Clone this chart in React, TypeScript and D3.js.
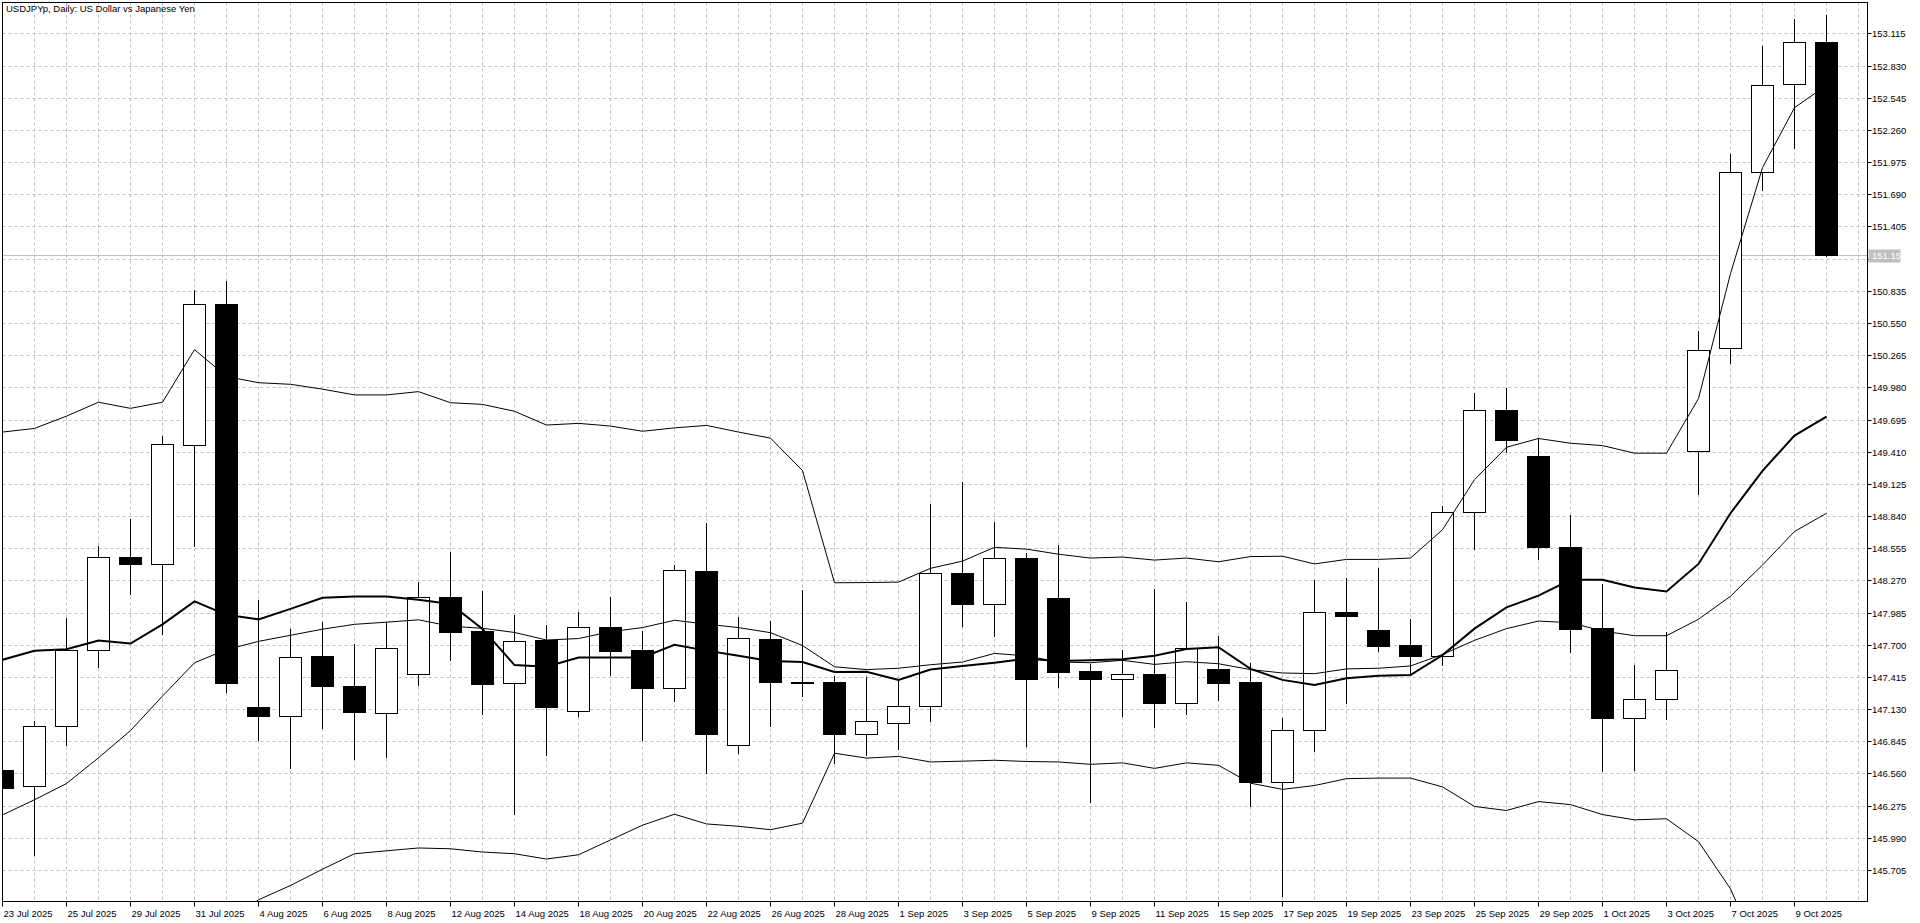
import React from 'react';
import * as d3 from 'd3';

const dates = [
  '23 Jul 2025','24 Jul 2025','25 Jul 2025','28 Jul 2025','29 Jul 2025','30 Jul 2025','31 Jul 2025','1 Aug 2025',
  '4 Aug 2025','5 Aug 2025','6 Aug 2025','7 Aug 2025','8 Aug 2025','11 Aug 2025','12 Aug 2025','13 Aug 2025',
  '14 Aug 2025','15 Aug 2025','18 Aug 2025','19 Aug 2025','20 Aug 2025','21 Aug 2025','22 Aug 2025','25 Aug 2025',
  '26 Aug 2025','27 Aug 2025','28 Aug 2025','29 Aug 2025','1 Sep 2025','2 Sep 2025','3 Sep 2025','4 Sep 2025',
  '5 Sep 2025','8 Sep 2025','9 Sep 2025','10 Sep 2025','11 Sep 2025','12 Sep 2025','15 Sep 2025','16 Sep 2025',
  '17 Sep 2025','18 Sep 2025','19 Sep 2025','22 Sep 2025','23 Sep 2025','24 Sep 2025','25 Sep 2025','26 Sep 2025',
  '29 Sep 2025','30 Sep 2025','1 Oct 2025','2 Oct 2025','3 Oct 2025','6 Oct 2025','7 Oct 2025','8 Oct 2025',
  '9 Oct 2025','10 Oct 2025'
];

const openP = [146.591,146.446,146.978,147.654,148.475,148.413,149.465,150.716,147.149,147.069,147.600,147.339,147.093,147.437,148.120,147.822,147.358,147.740,147.111,147.856,147.651,147.313,148.352,146.809,147.752,147.368,147.367,146.907,147.004,147.154,148.340,148.057,148.471,148.114,147.465,147.395,147.437,147.188,147.486,147.370,146.483,146.943,147.989,147.831,147.697,147.598,148.880,149.778,149.370,148.568,147.848,147.050,147.218,149.413,150.325,151.883,152.665,153.035];
const highP = [146.617,147.025,147.935,148.579,148.814,149.545,150.846,150.922,148.098,147.838,147.903,147.708,147.903,148.254,148.525,148.179,147.968,147.877,147.989,148.127,147.822,148.407,148.779,147.949,147.913,148.188,147.420,147.410,147.389,148.944,149.143,148.788,148.517,148.584,147.532,147.651,148.194,148.075,147.776,147.541,147.053,148.274,148.289,148.380,147.928,148.927,149.933,149.970,149.527,148.849,148.234,147.520,147.817,150.476,152.045,153.004,153.239,153.281];
const lowP = [146.414,145.842,146.808,147.506,148.152,147.798,148.579,147.285,146.855,146.608,146.963,146.688,146.710,147.346,147.567,147.083,146.199,146.724,147.068,147.431,146.858,147.205,146.565,146.742,146.980,147.243,146.656,146.727,146.778,147.029,147.862,147.779,146.800,147.328,146.303,147.068,146.974,147.089,147.215,146.275,145.473,146.763,147.184,147.648,147.450,147.520,148.547,149.407,148.458,147.639,146.582,146.592,147.041,149.032,150.199,151.732,152.097,151.140];
const closeP = [146.435,146.978,147.657,148.475,148.413,149.476,150.716,147.357,147.069,147.592,147.339,147.104,147.675,148.127,147.817,147.355,147.736,147.150,147.856,147.648,147.313,148.359,146.913,147.757,147.370,147.360,146.907,147.023,147.154,148.340,148.057,148.471,147.401,147.459,147.395,147.437,147.188,147.670,147.364,146.480,146.943,147.989,147.959,147.693,147.596,148.880,149.778,149.511,148.568,147.838,147.050,147.218,147.473,150.314,151.883,152.660,153.035,151.153];

const upperBand = [149.584,149.616,149.725,149.848,149.794,149.848,150.314,150.076,150.021,150.007,149.964,149.913,149.913,149.942,149.844,149.829,149.768,149.646,149.661,149.637,149.591,149.621,149.643,149.584,149.530,149.243,148.249,148.251,148.255,148.377,148.441,148.563,148.547,148.502,148.468,148.477,148.450,148.468,148.435,148.481,148.484,148.416,148.456,148.456,148.468,148.719,149.162,149.449,149.527,149.485,149.464,149.397,149.397,149.881,150.987,151.926,152.457,152.655];
const middleBand = [146.193,146.327,146.471,146.699,146.940,147.245,147.541,147.657,147.730,147.784,147.838,147.881,147.900,147.921,147.864,147.846,147.809,147.742,147.755,147.816,147.852,147.917,147.883,147.852,147.807,147.693,147.505,147.480,147.492,147.523,147.547,147.623,147.602,147.547,147.541,147.562,147.526,147.550,147.532,147.480,147.450,147.444,147.486,147.492,147.512,147.614,147.739,147.843,147.910,147.895,147.822,147.780,147.780,147.926,148.130,148.406,148.703,148.865];
const lowerBand: (number | null)[] = [null,null,null,null,null,null,null,145.238,145.441,145.568,145.712,145.849,145.875,145.900,145.893,145.864,145.849,145.802,145.840,145.971,146.102,146.199,146.113,146.092,146.062,146.120,146.739,146.696,146.711,146.662,146.669,146.677,146.666,146.662,146.641,146.654,146.605,146.654,146.632,146.474,146.419,146.453,146.514,146.519,146.519,146.441,146.268,146.232,146.311,146.284,146.196,146.149,146.159,145.956,145.538,144.890,144.952,145.076];
const maThick = [147.567,147.646,147.661,147.737,147.711,147.881,148.084,147.965,147.925,148.018,148.116,148.127,148.127,148.098,148.062,147.840,147.520,147.505,147.587,147.587,147.587,147.700,147.648,147.602,147.556,147.547,147.459,147.461,147.389,147.480,147.511,147.541,147.577,147.556,147.562,147.571,147.602,147.663,147.678,147.486,147.389,147.343,147.404,147.425,147.432,147.608,147.843,148.031,148.135,148.275,148.275,148.208,148.172,148.416,148.865,149.240,149.553,149.720];

const priceTicks = ['145.705','145.990','146.275','146.560','146.845','147.130','147.415','147.700','147.985','148.270','148.555','148.840','149.125','149.410','149.695','149.980','150.265','150.550','150.835','151.120','151.405','151.690','151.975','152.260','152.545','152.830','153.115'];
const currentPrice = 151.153;
const titleText = 'USDJPYp, Daily:  US Dollar vs Japanese Yen';

const W = 1920;
const H = 923;
const L = 2.5, R = 1867.5, T = 2.5, B = 901.5;
const FONT = "'Liberation Sans', Arial, sans-serif";

export default function App() {
  const x = d3.scaleLinear().domain([0, 1]).range([2.5, 34.5]);
  const y = d3.scaleLinear().domain([145.4215, 153.3843]).range([902, 3]);
  const crisp = (v: number) => Math.round(v) + 0.5;

  const idx = d3.range(dates.length);
  const gridX: number[] = [];
  for (let k = 0; x(k) < R; k++) gridX.push(x(k));

  const lineGen = d3.line<number | null>()
    .defined((d) => d !== null)
    .x((_, i) => x(i))
    .y((d) => y(d as number));

  const py = crisp(y(currentPrice));
  // the tick label hidden by the current-price box in the reference
  const visibleTicks = priceTicks.filter((t) => Math.abs(crisp(y(+t)) - py) > 10);

  return (
    <div style={{ position: 'absolute', left: 0, top: 0, width: W, height: H, background: '#fff' }}>
      <svg width={W} height={H} style={{ display: 'block' }} fontFamily={FONT}>
        <defs>
          <clipPath id="plot">
            <rect x={3} y={3} width={R - 3.5} height={B - 3.5} />
          </clipPath>
        </defs>
        <rect x={0} y={0} width={W} height={H} fill="#fff" />
        <g clipPath="url(#plot)">
          {gridX.map((gx, k) => (
            <line key={'gx' + k} x1={gx} x2={gx} y1={T} y2={B} stroke="#c0c0c0" strokeDasharray="3,3" />
          ))}
          {priceTicks.map((t) => (
            <line key={'gy' + t} x1={L} x2={R} y1={crisp(y(+t))} y2={crisp(y(+t))} stroke="#c0c0c0" strokeDasharray="3,3" />
          ))}
          <line x1={L} x2={R} y1={py} y2={py} stroke="#c0c0c0" />
          {idx.map((i) => {
            const o = openP[i], c = closeP[i];
            const cx = x(i);
            const top = Math.round(y(Math.max(o, c)));
            const bot = Math.round(y(Math.min(o, c)));
            const bull = c > o;
            return (
              <g key={'c' + i}>
                <line x1={cx} x2={cx} y1={Math.round(y(highP[i]))} y2={Math.round(y(lowP[i])) + 1} stroke="#000" />
                <rect x={cx - 11} y={top + 0.5} width={22} height={Math.max(bot - top, 0)}
                  fill={bull ? '#fff' : '#000'} stroke="#000" />
              </g>
            );
          })}
          <path d={lineGen(upperBand) || ''} fill="none" stroke="#000" strokeWidth={1} />
          <path d={lineGen(middleBand) || ''} fill="none" stroke="#000" strokeWidth={1} />
          <path d={lineGen(lowerBand) || ''} fill="none" stroke="#000" strokeWidth={1} />
          <path d={lineGen(maThick) || ''} fill="none" stroke="#000" strokeWidth={2} />
        </g>
        <rect x={L} y={T} width={R - L} height={B - T} fill="none" stroke="#000" />
        <text x={6} y={12} fontSize={9.5} fill="#000">{titleText}</text>
        {priceTicks.map((t) => (
          <line key={'ytk' + t} x1={R} x2={R + 4} y1={crisp(y(+t))} y2={crisp(y(+t))} stroke="#000" />
        ))}
        {visibleTicks.map((t) => (
          <text key={'yt' + t} x={R + 4.5} y={crisp(y(+t))} dy="0.35em" fontSize={9.5} fill="#000">{t}</text>
        ))}
        <rect x={R + 1} y={py - 6} width={32} height={13} fill="#c0c0c0" />
        <text x={R + 4.5} y={py} dy="0.35em" fontSize={9.5} fill="#fff">{currentPrice.toFixed(3)}</text>
        {idx.filter((i) => i % 2 === 0).map((i) => (
          <g key={'xt' + i}>
            <line x1={x(i)} x2={x(i)} y1={B} y2={B + 5} stroke="#000" />
            <text x={x(i) + 1} y={B + 15} fontSize={9.5} fill="#000">{dates[i]}</text>
          </g>
        ))}
      </svg>
    </div>
  );
}
